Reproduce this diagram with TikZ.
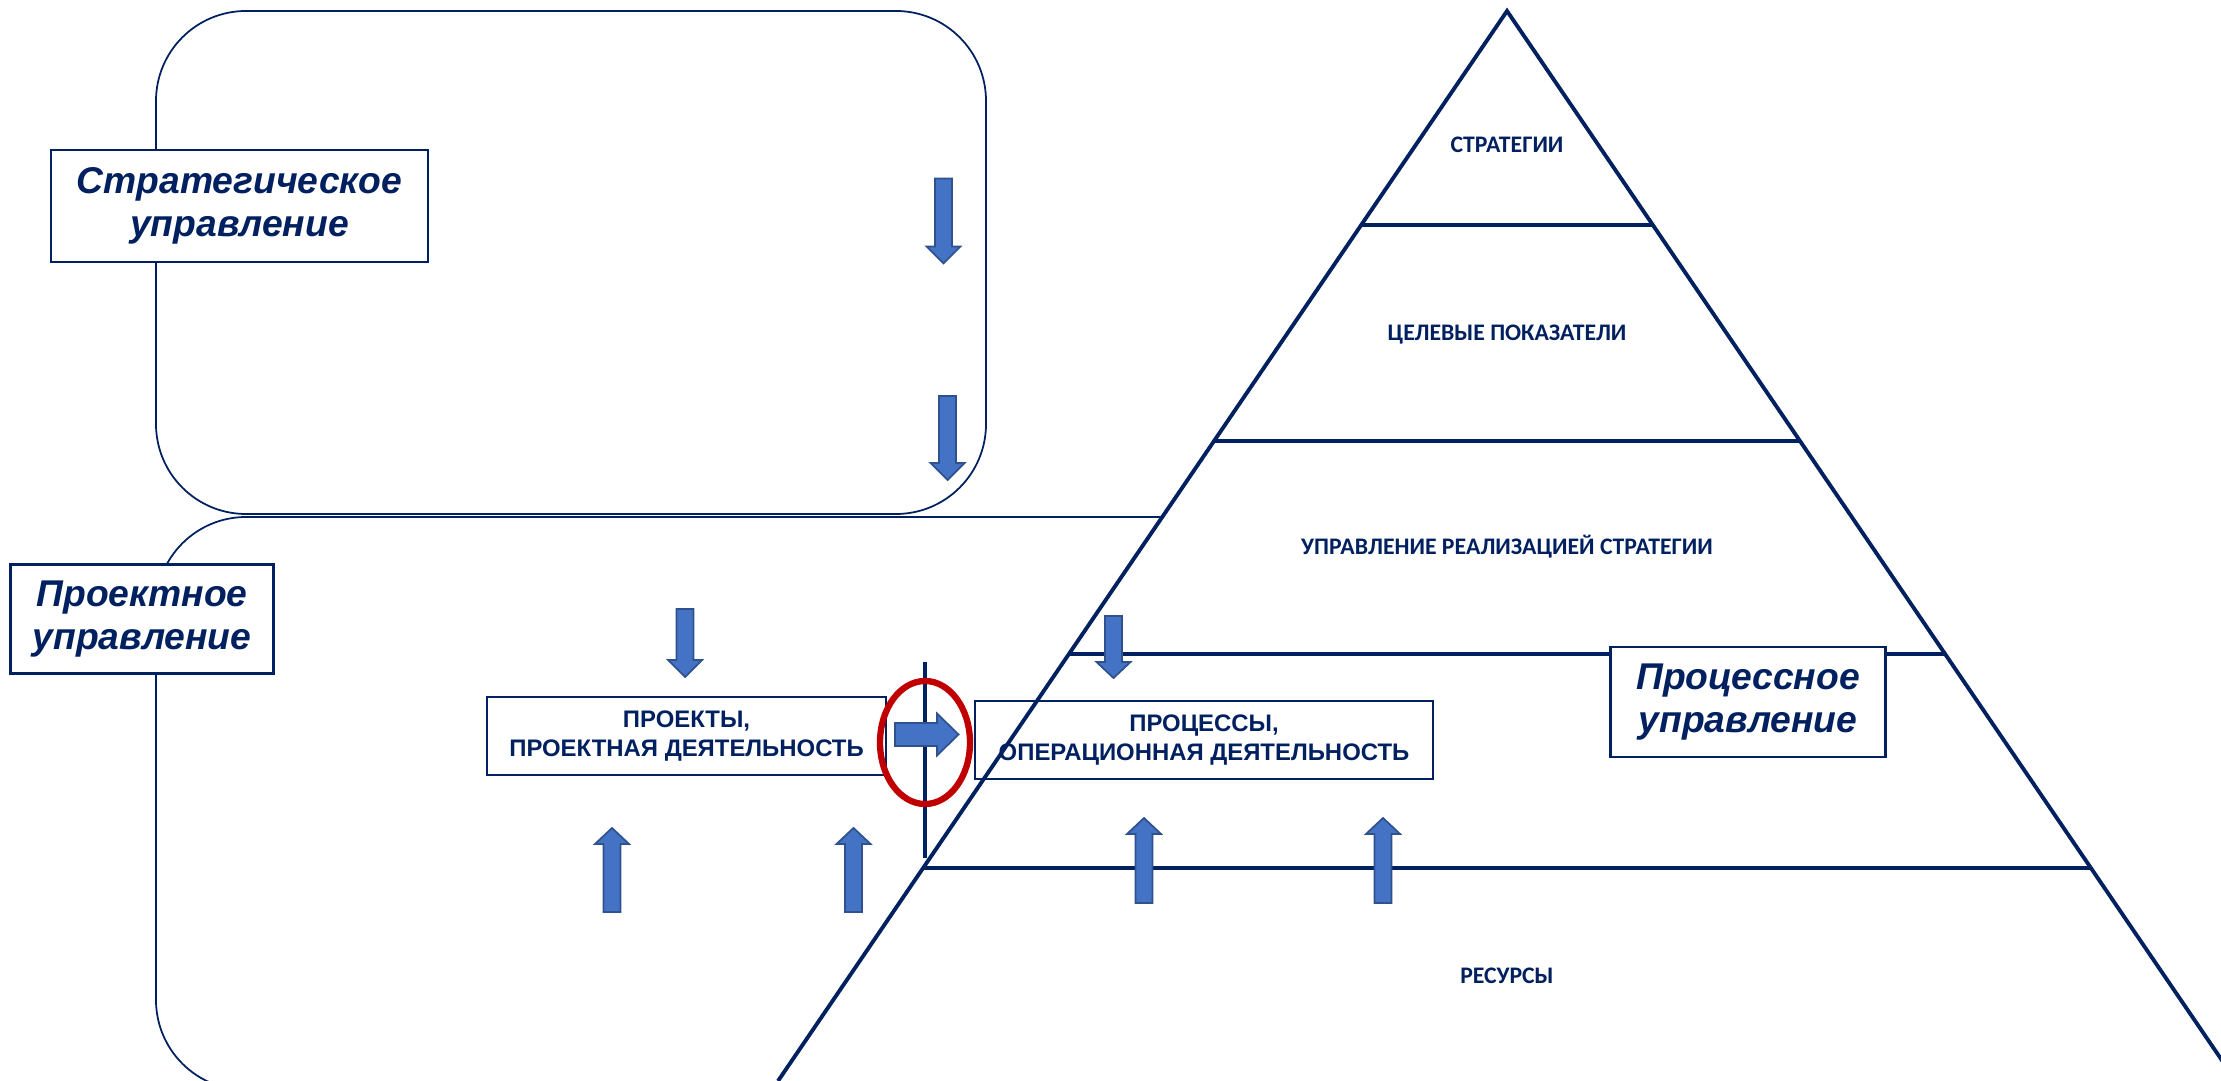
\documentclass[tikz,border=0pt]{standalone}
\usepackage{fontspec}
\setmainfont{Liberation Sans}
\newfontfamily\calibrifont{Carlito}
\usetikzlibrary{shapes.geometric}

\definecolor{navy}{HTML}{002060}
\definecolor{arrowblue}{HTML}{4472C4}
\definecolor{arrowedge}{HTML}{2F528F}
\definecolor{darkred}{HTML}{C00000}

\begin{document}
\begin{tikzpicture}[
    x=1cm, y=-1cm,
    frame/.style={draw=navy, line width=0.5pt, rounded corners=0.9cm},
    level/.style={draw=navy, line width=1.1pt},
    tier/.style={text=navy, anchor=base, inner sep=0pt, font=\calibrifont\bfseries\fontsize{6.75}{8}\selectfont},
    title/.style={rectangle, draw=navy, fill=white, line width=0.8pt, text=navy, align=center, inner sep=0pt, font=\bfseries\itshape\fontsize{10.6}{12.2}\selectfont},
    block/.style={rectangle, draw=navy, line width=0.6pt, text=navy, align=center, inner sep=0pt, minimum height=0.775cm, font=\bfseries\fontsize{6.8}{8.2}\selectfont},
    arrowbody/.style={fill=arrowblue, draw=arrowedge, line width=0.5pt},
    pics/blockarrow/.style n args={4}{code={
        \draw[arrowbody] (0,-#2) -- ({#1-#4},-#2) -- ({#1-#4},-#3) -- (#1,0)
            -- ({#1-#4},#3) -- ({#1-#4},#2) -- (0,#2) -- cycle;
    }}
]
    \useasboundingbox (0,0) rectangle (22.21,10.81);
    \clip (0,0) rectangle (22.21,10.81);

    % two rounded frames on the left
    \draw [frame] (1.56,0.11) rectangle (9.86,5.14);
    \draw [frame] (1.56,5.17) rectangle (14,10.9);

    % pyramid
    \coordinate (apex) at (15.07,0.11);
    \coordinate (baseL) at (7.78,10.81);
    \coordinate (baseR) at (22.36,10.81);
    \filldraw [level, fill=white] (baseL) -- (apex) -- (baseR);
    \draw [level] (13.61,2.25) -- (16.53,2.25);
    \draw [level] (12.14,4.41) -- (18.00,4.41);
    \draw [level] (10.69,6.54) -- (19.45,6.54);
    \draw [level] (9.23,8.68) -- (20.91,8.68);

    \node [tier] (strat) at (15.07,1.53) {СТРАТЕГИИ};
    \node [tier] (kpi) at (15.07,3.41) {ЦЕЛЕВЫЕ ПОКАЗАТЕЛИ};
    \node [tier] (impl) at (15.07,5.55) {УПРАВЛЕНИЕ РЕАЛИЗАЦИЕЙ СТРАТЕГИИ};
    \node [tier] (res) at (15.07,9.835) {РЕСУРСЫ};

    % border between projects and processes
    \coordinate (cuttop) at (9.25,6.62);
    \coordinate (cutbot) at (9.25,8.58);
    \draw [navy, line width=1.1pt] (cuttop) -- (cutbot);

    \node [block, fill=white, minimum width=3.99cm] (proj) at (6.865,7.36) {ПРОЕКТЫ,\\ПРОЕКТНАЯ ДЕЯТЕЛЬНОСТЬ};
    \node [block, minimum width=4.58cm] (proc) at (12.04,7.40) {ПРОЦЕССЫ,\\ОПЕРАЦИОННАЯ ДЕЯТЕЛЬНОСТЬ};

    \node [title, minimum width=3.77cm, minimum height=1.12cm] (stratmgmt) at (2.395,2.06) {Стратегическое\\управление};
    \node [title, minimum width=2.63cm, minimum height=1.09cm] (projmgmt) at (1.42,6.19) {Проектное\\управление};
    \node [title, minimum width=2.75cm, minimum height=1.10cm] (procmgmt) at (17.48,7.02) {Процессное\\управление};

    % block arrows
    \pic [rotate=-90] at (9.435,1.785) {blockarrow={0.85}{0.085}{0.17}{0.17}};
    \pic [rotate=-90] at (9.475,3.96) {blockarrow={0.84}{0.085}{0.17}{0.17}};
    \pic [rotate=-90] at (6.85,6.09) {blockarrow={0.68}{0.085}{0.17}{0.17}};
    \pic [rotate=-90] at (11.135,6.16) {blockarrow={0.62}{0.085}{0.17}{0.16}};
    \pic [rotate=90] at (6.12,9.12) {blockarrow={0.84}{0.085}{0.17}{0.16}};
    \pic [rotate=90] at (8.535,9.12) {blockarrow={0.84}{0.085}{0.17}{0.16}};
    \pic [rotate=90] at (11.44,9.03) {blockarrow={0.85}{0.085}{0.17}{0.16}};
    \pic [rotate=90] at (13.83,9.03) {blockarrow={0.85}{0.085}{0.17}{0.16}};
    \pic at (8.95,7.345) {blockarrow={0.635}{0.115}{0.21}{0.215}};

    \node [ellipse, draw=darkred, line width=1.8pt, inner sep=0pt, minimum width=0.9cm, minimum height=1.23cm] (focus) at (9.25,7.425) {};
\end{tikzpicture}
\end{document}
